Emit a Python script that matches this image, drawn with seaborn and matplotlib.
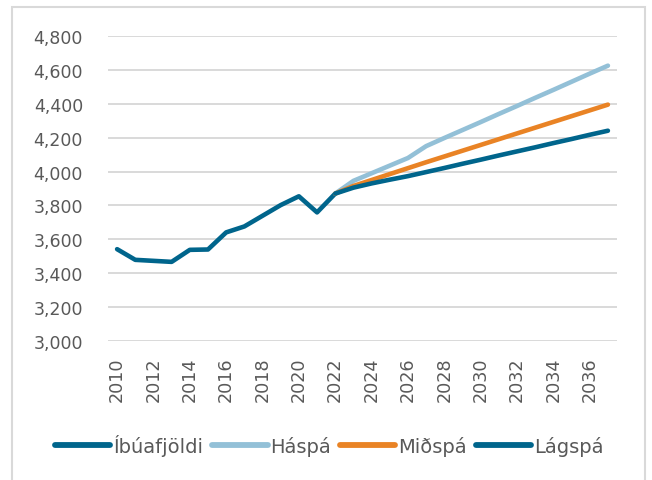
import matplotlib
matplotlib.use("Agg")
import matplotlib.pyplot as plt
import matplotlib.ticker as mticker
from matplotlib.patches import Rectangle
import seaborn as sns
import pandas as pd

# ---- data ----
years_hist = [2010, 2011, 2012, 2013, 2014, 2015, 2016, 2017, 2018, 2019, 2020, 2021, 2022]
ibuafjoldi = [3542, 3479, 3473, 3467, 3538, 3540, 3641, 3676, 3739, 3802, 3854, 3759, 3870]

years_proj = [2022, 2023, 2024, 2025, 2026, 2027, 2028, 2029, 2030, 2031, 2032,
              2033, 2034, 2035, 2036, 2037]
haspa = [3870, 3945, 3990, 4035, 4080, 4150, 4198, 4245, 4292, 4340, 4387,
         4435, 4482, 4530, 4578, 4625]
midspa = [3870, 3915, 3950, 3985, 4020, 4055, 4089, 4123, 4157, 4191, 4225,
          4259, 4293, 4327, 4361, 4395]
lagspa = [3870, 3905, 3930, 3952, 3973, 3997, 4021, 4046, 4070, 4095, 4119,
          4143, 4168, 4192, 4217, 4241]

series_names = ["Íbúafjöldi", "Háspá", "Miðspá", "Lágspá"]
colors = ["#00658C", "#93C0D7", "#E98325", "#00658C"]
xtick_years = list(range(2010, 2037, 2))
yticks = list(range(3000, 4801, 200))

frames = [
    pd.DataFrame({"Ár": years_hist, "Fjöldi": ibuafjoldi, "Röð": series_names[0]}),
    pd.DataFrame({"Ár": years_proj, "Fjöldi": haspa, "Röð": series_names[1]}),
    pd.DataFrame({"Ár": years_proj, "Fjöldi": midspa, "Röð": series_names[2]}),
    pd.DataFrame({"Ár": years_proj, "Fjöldi": lagspa, "Röð": series_names[3]}),
]
df = pd.concat(frames, ignore_index=True)

sns.set_style("white")
plt.rcParams["font.family"] = ["DejaVu Sans"]

fig = plt.figure(figsize=(6.52, 4.81), dpi=100)
ax = fig.add_axes([108 / 652, 1 - 342 / 481, (617 - 108) / 652, (342 - 37) / 481])

sns.lineplot(data=df, x="Ár", y="Fjöldi", hue="Röð", hue_order=series_names,
             palette=dict(zip(series_names, colors)), linewidth=3.3, ax=ax,
             solid_capstyle="round", legend=True)

ax.set_xlim(2009.5, 2037.5)
ax.set_ylim(3000, 4800)
ax.set_xticks(xtick_years)
ax.set_xticklabels([str(y) for y in xtick_years], rotation=90)
ax.set_yticks(yticks)
ax.yaxis.set_major_formatter(mticker.FuncFormatter(lambda v, p: f"{int(v):,}"))
ax.set_xlabel("")
ax.set_ylabel("")
ax.grid(axis="y", color="#D9D9D9", linewidth=1.4)
ax.set_axisbelow(True)
for s in ax.spines.values():
    s.set_visible(False)
ax.tick_params(axis="y", length=0, pad=18, labelsize=12.5, labelcolor="#595959")
ax.tick_params(axis="x", length=0, pad=11, labelsize=12.7, labelcolor="#595959")

handles, labels = ax.get_legend_handles_labels()
for h in handles:
    h.set_linewidth(4.2)
    h.set_solid_capstyle("round")
ax.legend_.remove()
fig.legend(handles, labels, loc="center", bbox_to_anchor=(0.505, 1 - 446 / 481),
           ncol=4, frameon=False, fontsize=14, labelcolor="#595959",
           handlelength=2.85, handletextpad=0.15, columnspacing=0.45,
           borderaxespad=0, borderpad=0)

fig.patches.append(Rectangle((12 / 652, -0.05), (645 - 12) / 652, 1.05 - 8 / 481,
                             transform=fig.transFigure, fill=False,
                             edgecolor="#D9D9D9", linewidth=1.5))

fig.savefig("out.png", dpi=100)
